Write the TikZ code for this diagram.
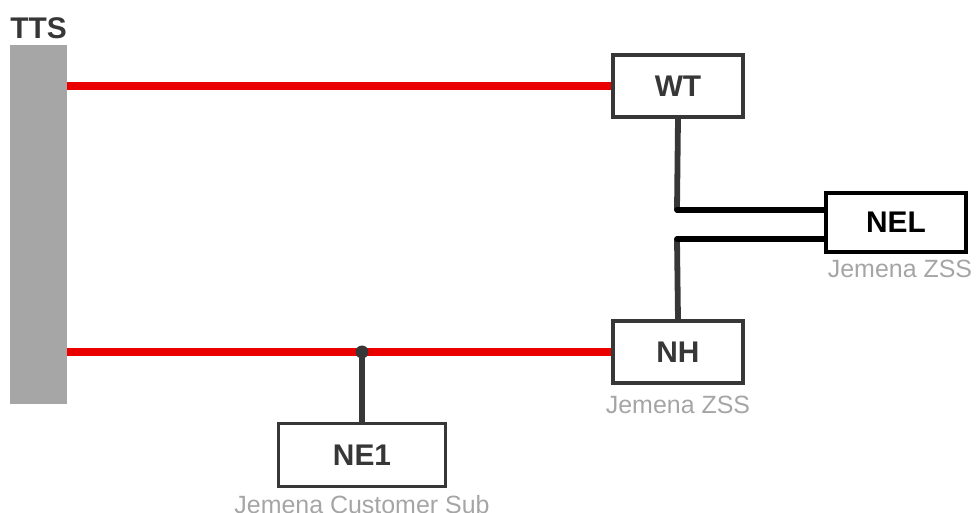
\documentclass[tikz,border=0pt]{standalone}
\usepackage{fontspec}
\setmainfont{Liberation Sans}
\usetikzlibrary{positioning}
\definecolor{feedRed}{RGB}{235,0,0}
\definecolor{darkGrey}{RGB}{55,55,55}
\definecolor{barGrey}{RGB}{166,166,166}
\definecolor{noteGrey}{RGB}{165,165,165}
\tikzset{
  subBox/.style={draw=darkGrey, line width=2pt, fill=white, text=darkGrey,
    font=\fontsize{17}{17}\selectfont\bfseries, minimum width=2.6cm, minimum height=1.24cm},
  subNote/.style={text=noteGrey, font=\fontsize{14.2}{14.2}\selectfont, inner sep=0pt},
  feeder/.style={feedRed, line width=4pt},
  tie/.style={darkGrey, line width=3.3pt},
  link/.style={black, line width=3.3pt, line cap=round}
}
\begin{document}
\begin{tikzpicture}[x=0.02cm, y=-0.02cm]
      \useasboundingbox (0,0) rectangle (978,513);
      %busbar
      \node[fill=barGrey, minimum width=1.14cm, minimum height=7.18cm, inner sep=0pt] (tts) at (38.5,224.5) {};
      \node[above=3pt of tts, inner sep=0pt, text=darkGrey, font=\fontsize{17}{17}\selectfont\bfseries] (ttsLabel) {TTS};
      %substations
      \node[subBox] (wt) at (678,86) {WT};
      \node[subBox] (nh) at (678,352) {NH};
      \node[subBox, draw=black, text=black, line width=2.3pt, minimum width=2.8cm, minimum height=1.18cm] (nel) at (896,222.5) {NEL};
      \node[subBox, minimum width=3.34cm, minimum height=1.26cm] (ne1) at (362,455) {NE1};
      \node[subNote, below=0.22cm of nh] (nhNote) {Jemena ZSS};
      \node[subNote, below=0.12cm of nel, xshift=0.08cm] (nelNote) {Jemena ZSS};
      \node[subNote, below=0.13cm of ne1] (ne1Note) {Jemena Customer Sub};
      %points
      \coordinate (wtTap) at (677,210);
      \coordinate (nhTap) at (677,239);
      \coordinate (tee) at (362,352);
      %lines
      \draw[feeder] (wt.west) -- (wt.west -| tts.east);
      \draw[feeder] (nh.west) -- (nh.west -| tts.east);
      \draw[tie] (wt.south) -- (wtTap);
      \draw[tie] (nh.north) -- (nhTap);
      \draw[link] (wtTap) -- (wtTap -| nel.west);
      \draw[link] (nhTap) -- (nhTap -| nel.west);
      \draw[tie] (ne1.north) -- (tee);
      \fill[darkGrey] (tee) circle[radius=0.13cm];
\end{tikzpicture}
\end{document}
